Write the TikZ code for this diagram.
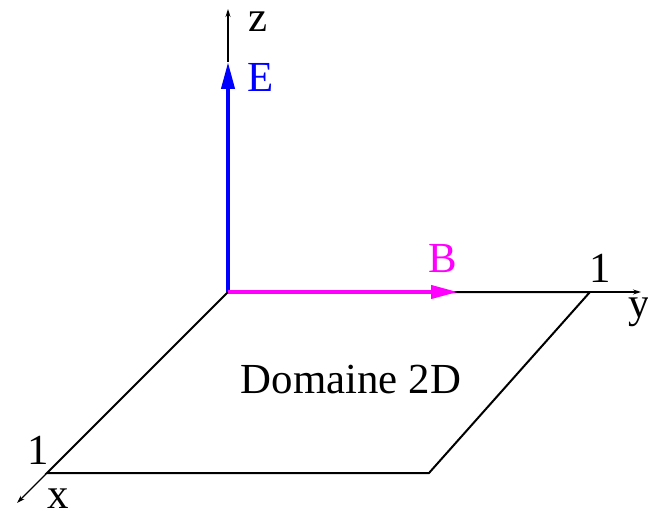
\documentclass[tikz,border=0pt]{standalone}
\usepackage{fontspec}
\setmainfont{Liberation Serif}
\usetikzlibrary{arrows.meta}
\definecolor{fieldB}{RGB}{255,0,255}
\definecolor{fieldE}{RGB}{0,0,255}
\begin{document}
\begin{tikzpicture}[x=1bp,y=-1bp,
  lbl/.style={inner sep=0pt,font=\fontsize{43}{48}\selectfont},
  axis/.style={line width=1.1bp,-{Stealth[length=8bp,width=5bp]}},
  edge/.style={line width=2bp},
  field/.style={line width=4bp,-{Triangle[length=27bp,width=13bp]}}]
\useasboundingbox (0,0) rectangle (648,515);
\coordinate (O) at (228,292);
\coordinate (Y1) at (590,292);
\coordinate (XY) at (429,473);
\coordinate (X1) at (47,473);
\coordinate (Zend) at (228,9);
\coordinate (Yend) at (641,292);
\coordinate (Xend) at (17,503);
\coordinate (Etip) at (228,62);
\coordinate (Btip) at (458,292);
% square
\draw[edge,line join=miter] (O) -- (Y1) -- (XY) -- (X1) -- cycle;
% axes
\draw[axis] (Etip) -- (Zend);
\draw[axis] (Y1) -- (Yend);
\draw[axis] (X1) -- (Xend);
% fields
\draw[field,fieldE] (O) -- (Etip);
\draw[field,fieldB] (O) -- (Btip);
% labels
\node[lbl] (z) at (258,22) {z};
\node[lbl,text=fieldE] (E) at (261,77) {E};
\node[lbl,text=fieldB] (B) at (443,259) {B};
\node[lbl] (one y) at (600,268) {1};
\node[lbl] (y) at (639,312) {y};
\node[lbl] (one x) at (38,450) {1};
\node[lbl] (x) at (58,499) {x};
\node[lbl] (dom) at (351,380) {Domaine 2D};
\end{tikzpicture}
\end{document}
